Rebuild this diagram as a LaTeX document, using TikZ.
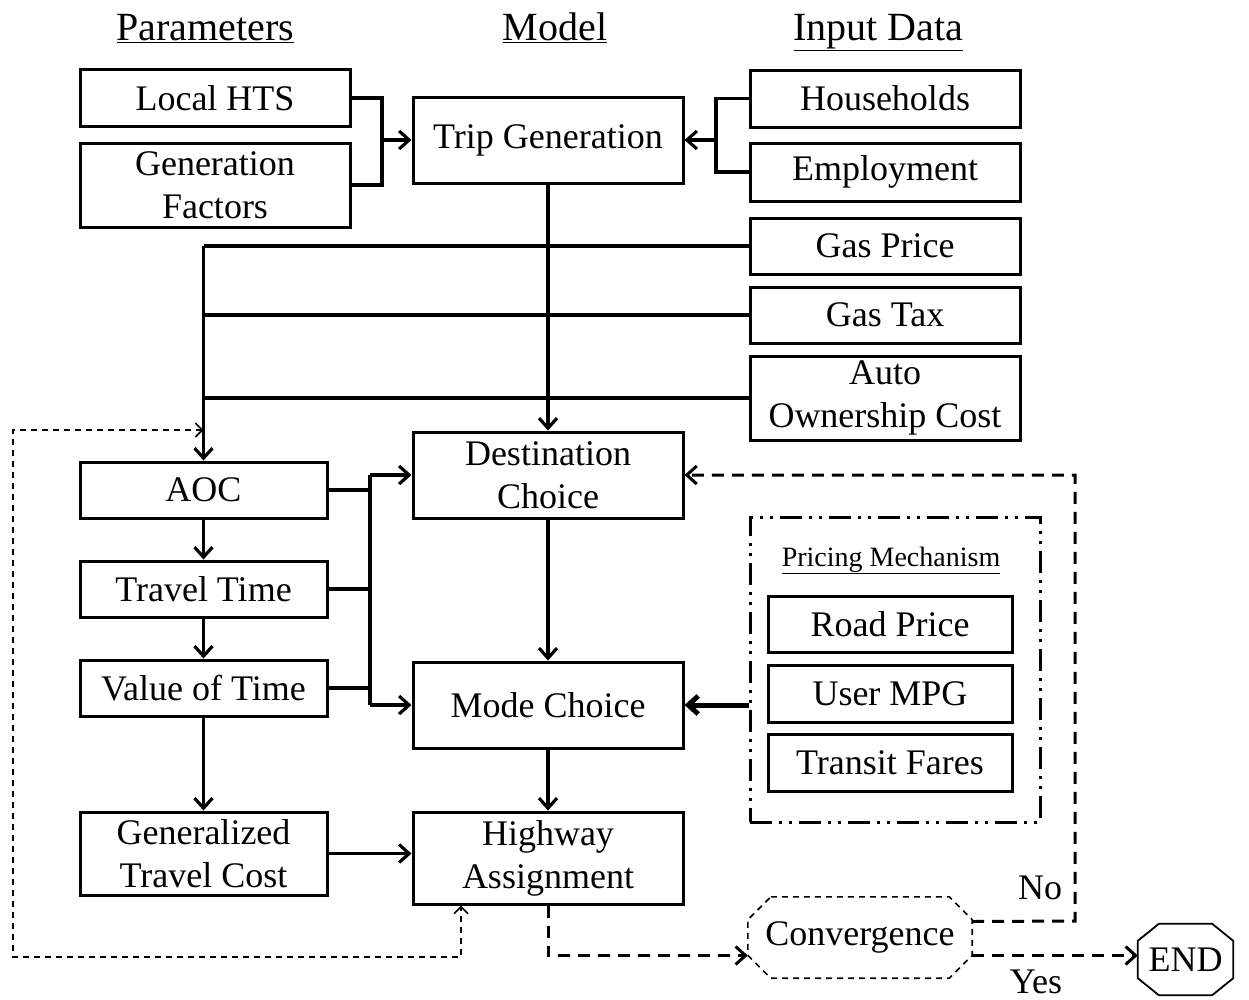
\documentclass[tikz,border=0pt]{standalone}
\usepackage{fontspec}
\setmainfont{Liberation Serif}
\usetikzlibrary{arrows.meta}
\begin{document}
\begin{tikzpicture}[x=1pt,y=-1pt,
  every node/.style={font=\fontsize{36}{43}\selectfont},
  box/.style={draw,line width=3pt,inner sep=0pt,align=center,minimum height=57pt},
  wide/.style={minimum width=270pt},
  narrow/.style={minimum width=247pt},
  sub/.style={minimum width=244pt},
  conn/.style={line width=3.2pt},
  tip/.style={-{Straight Barb[length=10pt,width=18pt]}},
  arr/.style={conn,tip},
  bigdash/.style={line width=3pt,dash pattern=on 12pt off 8pt},
  thindash/.style={line width=1.6pt,dash pattern=on 6pt off 5pt},
  header/.style={anchor=base,font=\fontsize{40}{48}\selectfont},
  pmbox/.style={draw,line width=3pt,dash pattern=on 22pt off 7pt on 3pt off 7pt on 3pt off 7pt,minimum width=290pt,minimum height=305pt,inner sep=0pt},
  plain/.style={inner sep=0pt}
]
\useasboundingbox (0,0) rectangle (1249,999);

% headers
\node[header] (hp) at (205.5,40) {\underline{Parameters}};
\node[header] (hm) at (555,40) {\underline{Model}};
\node[header] (hi) at (878.5,40) {\underline{Input Data}};

% parameters
\node[box,wide] (hts) at (215,98) {Local HTS};
\node[box,wide,minimum height=84pt] (gf) at (215,185) {Generation\\Factors};

% model
\node[box,wide,minimum height=86pt] (tg) at (548,140) {Trip Generation};
\node[box,wide,minimum height=86pt] (dc) at (548,475) {Destination\\Choice};
\node[box,wide,minimum height=86pt] (mc) at (548,705) {Mode Choice};
\node[box,wide,minimum height=92pt] (ha) at (548,858) {Highway\\Assignment};

% input data
\node[box,wide] (hh) at (885,98.5) {Households};
\node[box,wide,minimum height=58pt] (emp) at (885,172) {Employment};
\node[box,wide,minimum height=56pt] (gp) at (885,246) {Gas Price};
\node[box,wide,minimum height=56pt] (gt) at (885,315) {Gas Tax};
\node[box,wide,minimum height=84pt] (aocost) at (885,398) {Auto\\Ownership Cost};

% left column
\node[box,narrow,minimum height=56pt] (aoc) at (203.5,490) {AOC};
\node[box,narrow,minimum height=56pt] (tt) at (203.5,589) {Travel Time};
\node[box,narrow,minimum height=56pt] (vot) at (203.5,688) {Value of Time};
\node[box,narrow,minimum height=83pt] (gtc) at (203.5,853.5) {Generalized\\Travel Cost};

% pricing mechanism
\node[pmbox] (pm) at (895,669.5) {};
\node[anchor=base,font=\fontsize{28}{34}\selectfont] (pmt) at (891,566) {\underline{Pricing Mechanism}};
\node[box,sub,minimum height=56pt] (rp) at (890,624) {Road Price};
\node[box,sub] (mpg) at (890,693.5) {User MPG};
\node[box,sub] (tf) at (890,762.5) {Transit Fares};

% convergence and end (octagons)
\node[plain,minimum width=224pt,minimum height=81pt] (conv) at (860,937.5) {Convergence};
\draw[thindash] ([xshift=23pt]conv.north west) -- ([xshift=-23pt]conv.north east)
  -- ([yshift=-23pt]conv.north east) -- ([yshift=23pt]conv.south east)
  -- ([xshift=-23pt]conv.south east) -- ([xshift=23pt]conv.south west)
  -- ([yshift=23pt]conv.south west) -- ([yshift=-23pt]conv.north west) -- cycle;
\node[plain,minimum width=95pt,minimum height=71pt] (end) at (1185.5,959.5) {END};
\draw[line width=1.8pt] ([xshift=21pt]end.north west) -- ([xshift=-21pt]end.north east)
  -- ([yshift=-17pt]end.north east) -- ([yshift=17pt]end.south east)
  -- ([xshift=-21pt]end.south east) -- ([xshift=21pt]end.south west)
  -- ([yshift=17pt]end.south west) -- ([yshift=-17pt]end.north west) -- cycle;

% trip generation inputs
\coordinate (lb) at (382,140);
\draw[conn] (hts.east) -| (lb) |- (gf.east);
\draw[arr] (lb) -- (tg.west);
\coordinate (rb) at (716,140);
\draw[conn] (hh.west) -| (rb) |- (emp.west);
\draw[arr] (rb) -- (tg.east);

% model chain
\draw[arr] (tg.south) -- (dc.north);
\draw[arr] (dc.south) -- (mc.north);
\draw[arr] (mc.south) -- (ha.north);

% gas / cost inputs to AOC
\coordinate (gv) at (aoc.north |- gp.west);
\draw[conn] (gp.west) -- (gv);
\draw[conn] (gt.west) -- (gt.west -| gv);
\draw[conn] (aocost.west) -- (aocost.west -| gv);
\draw[arr] (gv) -- (aoc.north);

% left column chain
\draw[arr] (aoc.south) -- (tt.north);
\draw[arr] (tt.south) -- (vot.north);
\draw[arr] (vot.south) -- (gtc.north);
\draw[arr] (gtc.east) -- (gtc.east -| ha.west);

% cost bus to destination / mode choice
\coordinate (mv1) at (370,475);
\coordinate (mv2) at (370,705);
\draw[conn] (aoc.east) -- (aoc.east -| mv1);
\draw[conn] (tt.east) -- (tt.east -| mv1);
\draw[conn] (vot.east) -- (vot.east -| mv1);
\draw[conn] (mv1) -- (mv2);
\draw[arr] (mv1) -- (dc.west);
\draw[arr] (mv2) -- (mc.west);

% pricing to mode choice
\draw[line width=5pt,tip] (pm.west |- mc.east) -- (mc.east);

% feedback dashed thin
\coordinate (fb1) at (13,430);
\coordinate (fb2) at (13,957);
\coordinate (fb3) at (461,957);
\draw[thindash,{Straight Barb[length=7pt,width=14pt]}-{Straight Barb[length=7pt,width=14pt]}]
  (aoc.north |- fb1) -- (fb1) -- (fb2) -- (fb3) -- (fb3 |- ha.south);

% convergence loop
\draw[bigdash,tip] (ha.south) |- ([yshift=-18pt]conv.west);
\coordinate (nc) at (1075,921);
\draw[bigdash,tip] ([yshift=16pt]conv.east) -- (nc) |- (dc.east);
\draw[bigdash,tip] ([yshift=-18pt]conv.east) -- ([yshift=-18pt]conv.east -| end.west);
\node (no) at (1040,888) {No};
\node (yes) at (1036,982) {Yes};
\end{tikzpicture}
\end{document}
